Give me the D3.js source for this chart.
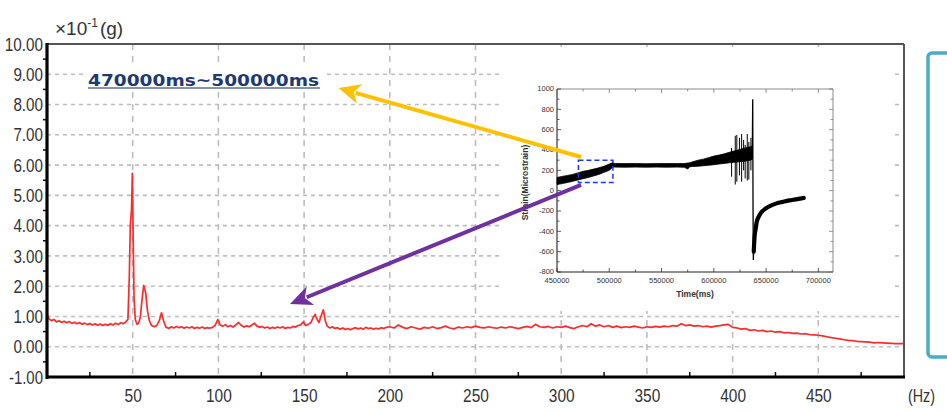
<!DOCTYPE html>
<html>
<head>
<meta charset="utf-8">
<script src="https://cdn.jsdelivr.net/npm/d3@7/dist/d3.min.js"></script>
<style>
  html, body { margin: 0; padding: 0; background: #fff; }
  svg { display: block; }
  .tick-label { font-family: "Liberation Sans", Arial, sans-serif; fill: #333; }
  .inset-text { font-family: "Liberation Sans", Arial, sans-serif; fill: #333; }
</style>
</head>
<body>
<svg id="chart" width="947" height="412"></svg>
<script>
// ---- Acceleration spectrum: [frequency (Hz), amplitude (x10^-1 g)] ----
const spectrum = [
  [0,1.10],[1,0.93],[2.5,0.86],[4,0.90],[5.5,0.82],[7,0.86],[8.5,0.80],[10,0.84],[11.5,0.79],[13,0.83],
  [14.5,0.77],[16,0.81],[17.5,0.76],[19,0.80],[20.5,0.74],[22,0.78],[23.5,0.73],[25,0.77],[26.5,0.72],[28,0.76],
  [29.5,0.71],[31,0.75],[32.5,0.70],[34,0.74],[35.5,0.71],[37,0.76],[38.5,0.72],[40,0.78],[41.5,0.73],[43,0.79],
  [44.5,0.76],[46,0.82],[47.2,0.90],[48,2.27],[48.6,4.0],[49.3,4.53],[49.8,5.73],[50.3,3.48],[50.8,1.60],[51.5,0.90],
  [52.5,0.74],[53.5,0.78],[54.5,1.00],[55.3,1.48],[56.4,2.03],[57.6,1.77],[58.6,1.20],[59.6,0.88],[61,0.70],[62.5,0.66],
  [64,0.70],[65.5,0.86],[66.8,1.12],[68.2,0.82],[69.5,0.64],[71,0.60],[72.5,0.66],[74,0.62],[75.5,0.67],[77,0.63],
  [78.5,0.66],[80,0.61],[81.5,0.65],[83,0.62],[84.5,0.66],[86,0.60],[87.5,0.64],[89,0.61],[90.5,0.65],[92,0.60],
  [93.5,0.63],[95,0.61],[96.5,0.64],[98,0.70],[99.7,0.90],[101,0.72],[102.5,0.68],[104,0.73],[105.5,0.66],[107,0.70],
  [108.5,0.65],[110,0.71],[111.8,0.80],[113.5,0.70],[115,0.65],[116.5,0.69],[118,0.66],[119.5,0.72],[121,0.78],[122.5,0.68],
  [124,0.64],[125.5,0.67],[127,0.62],[128.5,0.65],[130,0.60],[131.5,0.64],[133,0.61],[134.5,0.65],[136,0.62],[137.5,0.66],
  [139,0.60],[140.5,0.64],[142,0.62],[143.5,0.67],[145,0.65],[146.5,0.70],[148,0.72],[149.6,0.82],[151,0.70],[152.5,0.74],
  [154,0.80],[155.2,0.95],[156.4,1.07],[157.6,0.90],[158.7,0.80],[159.8,1.00],[161.2,1.22],[162.4,0.85],[163.5,0.68],[165,0.62],
  [166.5,0.66],[168,0.60],[169.5,0.63],[171,0.58],[172.5,0.62],[174,0.57],[175.5,0.60],[177,0.56],[178.5,0.60],[180,0.63],
  [181.5,0.59],[183,0.62],[184.5,0.58],[186,0.64],[187.5,0.60],[189,0.62],[190.5,0.58],[192,0.61],[193.5,0.59],[195,0.63],
  [196.5,0.60],[198,0.64],[200,0.66],[202.5,0.62],[205,0.72],[207.5,0.64],[210,0.60],[212.5,0.66],[215,0.62],[217.5,0.58],
  [220,0.64],[222.5,0.61],[225,0.66],[227.5,0.60],[230,0.63],[232.5,0.68],[235,0.62],[237.5,0.59],[240,0.65],[242.5,0.62],
  [245,0.66],[247.5,0.63],[250,0.68],[252.5,0.64],[255,0.62],[257.5,0.66],[260,0.63],[262.5,0.61],[265,0.65],[267.5,0.62],
  [270,0.66],[272.5,0.63],[275,0.60],[277.5,0.64],[280,0.67],[282.5,0.63],[285,0.74],[287.5,0.66],[290,0.64],[292.5,0.67],
  [295,0.62],[297.5,0.66],[300,0.64],[302.5,0.68],[305,0.63],[307.5,0.60],[310,0.66],[312.5,0.70],[315,0.66],[317.5,0.76],
  [320,0.68],[322.5,0.72],[325,0.66],[327.5,0.70],[330,0.64],[332.5,0.68],[335,0.63],[337.5,0.66],[340,0.64],[342.5,0.68],
  [345,0.65],[347.5,0.62],[350,0.66],[352.5,0.64],[355,0.67],[357.5,0.65],[360,0.68],[362.5,0.66],[365,0.70],[367.5,0.68],
  [370,0.76],[372.5,0.70],[375,0.72],[377.5,0.68],[380,0.70],[382.5,0.66],[385,0.68],[387.5,0.65],[390,0.68],[392.5,0.70],
  [395,0.72],[397.5,0.74],[400,0.64],[402.5,0.62],[405,0.58],[407.5,0.60],[410,0.54],[412.5,0.56],[415,0.52],[417.5,0.54],
  [420,0.50],[422.5,0.52],[425,0.48],[427.5,0.50],[430,0.46],[432.5,0.47],[435,0.44],[437.5,0.45],[440,0.42],[442.5,0.43],
  [445,0.40],[447.5,0.39],[450,0.38],[452.5,0.36],[455,0.33],[457.5,0.30],[460,0.28],[462.5,0.26],[465,0.23],[467.5,0.21],
  [470,0.20],[472.5,0.18],[475,0.17],[477.5,0.16],[480,0.15],[482.5,0.13],[485,0.14],[487.5,0.13],[490,0.12],[492.5,0.11],
  [495,0.10],[497.5,0.10],[500,0.10]
];
const freqTicks = [50,100,150,200,250,300,350,400,450];
const freqMinorTicks = [25,75,125,175,225,275,325,375,425,475];
const ampTicks = [-1,0,1,2,3,4,5,6,7,8,9,10];
const ampTickLabels = ["-1.00","0.00","1.00","2.00","3.00","4.00","5.00","6.00","7.00","8.00","9.00","10.00"];
const ampMinorTicks = [-0.5,0.5,1.5,2.5,3.5,4.5,5.5,6.5,7.5,8.5,9.5];
const windowLabel = "470000ms~500000ms";

// ---- Strain history (inset): time (ms) vs microstrain ----
// noisy band: [time, upper, lower]
const strainBand = [
  [450000,130,60],[455000,140,70],[460000,150,80],[465000,160,92],[470000,175,105],[475000,190,118],
  [480000,200,130],[485000,212,145],[490000,225,160],[495000,240,180],[500000,262,200],[503000,275,228],
  [505000,268,232],[515000,266,231],[525000,267,232],[535000,265,231],[545000,266,232],[555000,267,231],
  [565000,266,232],[572000,267,230],[575000,272,212],[577000,275,235],[580000,285,238],[585000,300,240],
  [590000,310,245],[595000,325,250],[600000,340,255],[605000,350,262],[610000,362,268],[615000,378,275],
  [620000,392,280],[625000,405,285],[630000,420,290],[635000,432,300],[637000,440,310]
];
// oscillation spikes: [time, low, high]
const strainSpikes = [
  [617000,137,420],[620500,60,540],[622000,88,548],[624500,150,520],[626600,88,557],
  [628500,200,500],[630000,120,450],[632000,100,557],[633500,110,480],[635500,200,520]
];
// rupture: [time, strain]
const strainRupture = [
  [636800,360],[637200,900],[637500,-120],[637800,-682],[638200,-560],[638700,-470],[639300,-420]
];
// relaxation after rupture: [time, strain]
const strainRecovery = [
  [638200,-600],[639000,-450],[640000,-380],[641000,-310],[643000,-255],[645000,-220],[650000,-173],
  [655000,-145],[660000,-125],[666000,-110],[672000,-96],[678000,-86],[684000,-76],[686000,-72]
];
const timeTicks = [450000,500000,550000,600000,650000,700000];
const strainTicks = [-800,-600,-400,-200,0,200,400,600,800,1000];
const selectedWindow = { t0: 470500, t1: 503500, s0: 80, s1: 300 };

const svg = d3.select("#chart");

// narrow numeric labels: fixed advance per digit / dot / minus
function labelWidth(s) {
  let w = 0;
  for (const c of s) w += (c === "." ? 3.8 : c === "-" ? 4.5 : 8.6);
  return w;
}

// ---------- main spectrum frame ----------
const x = d3.scaleLinear().domain([0, 500]).range([47, 904]);
const y = d3.scaleLinear().domain([-1, 10]).range([377, 44]);

const grid = svg.append("g");
grid.selectAll("line.h").data(ampTicks.filter(v => v >= 0 && v <= 9)).join("line")
  .attr("x1", x(0)).attr("x2", x(500)).attr("y1", d => y(d)).attr("y2", d => y(d))
  .attr("stroke", "#bdbdbd").attr("stroke-width", 1.6).attr("stroke-dasharray", "4,4");
grid.selectAll("line.v").data(freqTicks).join("line")
  .attr("x1", d => x(d)).attr("x2", d => x(d)).attr("y1", y(10)).attr("y2", y(-1))
  .attr("stroke", "#bdbdbd").attr("stroke-width", 1.6).attr("stroke-dasharray", "6,6");

// white panel that holds the strain history
svg.append("rect").attr("x", 500).attr("y", 47).attr("width", 393).attr("height", 264).attr("fill", "#fff");

// spectrum trace
svg.append("path").datum(spectrum)
  .attr("fill", "none").attr("stroke", "#ff2a2a").attr("stroke-width", 1.7)
  .attr("stroke-linejoin", "round")
  .attr("d", d3.line().x(d => x(d[0])).y(d => y(d[1])));

// frame: thin grey top/right, heavy black left/bottom
svg.append("line").attr("x1", x(0)).attr("x2", x(500)).attr("y1", y(10)).attr("y2", y(10))
  .attr("stroke", "#555").attr("stroke-width", 2);
svg.append("line").attr("x1", x(500)).attr("x2", x(500)).attr("y1", y(10)).attr("y2", y(-1))
  .attr("stroke", "#555").attr("stroke-width", 2);

svg.selectAll("line.ymin").data(ampMinorTicks).join("line")
  .attr("x1", x(0) - 4).attr("x2", x(0)).attr("y1", d => y(d)).attr("y2", d => y(d))
  .attr("stroke", "#111").attr("stroke-width", 1.5);
svg.selectAll("line.xmin").data(freqMinorTicks).join("line")
  .attr("x1", d => x(d)).attr("x2", d => x(d)).attr("y1", y(-1)).attr("y2", y(-1) - 5)
  .attr("stroke", "#111").attr("stroke-width", 1.5);

svg.append("line").attr("x1", x(0)).attr("x2", x(0)).attr("y1", y(10) - 1).attr("y2", y(-1) + 2)
  .attr("stroke", "#000").attr("stroke-width", 3.2);
svg.append("line").attr("x1", x(0) - 1).attr("x2", x(500) + 1).attr("y1", y(-1)).attr("y2", y(-1))
  .attr("stroke", "#000").attr("stroke-width", 3.2);

// axis labels
const xAxis = svg.append("g").attr("transform", `translate(0,${y(-1)})`)
  .call(d3.axisBottom(x).tickValues(freqTicks).tickSize(0).tickPadding(12).tickFormat(d3.format("d")));
xAxis.select(".domain").remove();
xAxis.selectAll("text").attr("class", "tick-label").attr("font-size", 19).attr("fill", "#333")
  .attr("textLength", function () { return labelWidth(this.textContent); })
  .attr("lengthAdjust", "spacingAndGlyphs");

const yAxis = svg.append("g").attr("transform", `translate(${x(0) - 3},0)`)
  .call(d3.axisLeft(y).tickValues(ampTicks).tickSize(0).tickPadding(1)
    .tickFormat((d, i) => ampTickLabels[i]));
yAxis.select(".domain").remove();
yAxis.selectAll("text").attr("class", "tick-label").attr("font-size", 19).attr("fill", "#333")
  .attr("textLength", function () { return labelWidth(this.textContent); })
  .attr("lengthAdjust", "spacingAndGlyphs");

svg.append("text").attr("class", "tick-label").attr("x", 908).attr("y", 402)
  .attr("font-size", 18).attr("textLength", 27).attr("lengthAdjust", "spacingAndGlyphs").text("(Hz)");

const unit = svg.append("text").attr("class", "tick-label").attr("x", 55).attr("y", 35).attr("font-size", 19);
unit.append("tspan").text("×10");
unit.append("tspan").attr("dy", -8).attr("font-size", 12).text("-1");
unit.append("tspan").attr("dy", 8).attr("dx", 2).text("(g)");

// ---------- time-window caption ----------
svg.append("rect").attr("x", 85).attr("y", 68).attr("width", 240).attr("height", 22).attr("fill", "#fff");
svg.append("text").attr("x", 88).attr("y", 85.5)
  .attr("font-family", "'DejaVu Sans', Verdana, sans-serif").attr("font-weight", "bold")
  .attr("font-size", 15.5).attr("fill", "#1f3a6e")
  .attr("textLength", 231).attr("lengthAdjust", "spacingAndGlyphs")
  .text(windowLabel);
svg.append("line").attr("x1", 88).attr("x2", 320).attr("y1", 88).attr("y2", 88)
  .attr("stroke", "#5a6f96").attr("stroke-width", 1.4);

// ---------- strain history inset ----------
const tx = d3.scaleLinear().domain([450000, 714000]).range([557, 833]);
const sy = d3.scaleLinear().domain([-800, 1000]).range([272, 89]);
const inset = svg.append("g");

// frame
inset.append("line").attr("x1", tx(450000)).attr("x2", tx(714000)).attr("y1", sy(1000)).attr("y2", sy(1000))
  .attr("stroke", "#8a8a8a").attr("stroke-width", 1);
inset.append("line").attr("x1", tx(714000)).attr("x2", tx(714000)).attr("y1", sy(1000)).attr("y2", sy(-800))
  .attr("stroke", "#8a8a8a").attr("stroke-width", 1);
inset.append("line").attr("x1", tx(450000)).attr("x2", tx(450000)).attr("y1", sy(1000)).attr("y2", sy(-800))
  .attr("stroke", "#222").attr("stroke-width", 1.1);
inset.append("line").attr("x1", tx(450000)).attr("x2", tx(714000)).attr("y1", sy(-800)).attr("y2", sy(-800))
  .attr("stroke", "#222").attr("stroke-width", 1.1);

const minorT = d3.range(475000, 714000, 50000);
const minorS = d3.range(-700, 1000, 200);
inset.selectAll("line.tt").data(timeTicks.concat(minorT)).join("line")
  .attr("x1", d => tx(d)).attr("x2", d => tx(d))
  .attr("y1", sy(-800)).attr("y2", d => sy(-800) - (d % 50000 === 0 ? 4 : 2.5))
  .attr("stroke", "#333").attr("stroke-width", 0.8);
inset.selectAll("line.tt2").data(timeTicks.concat(minorT)).join("line")
  .attr("x1", d => tx(d)).attr("x2", d => tx(d))
  .attr("y1", sy(1000)).attr("y2", d => sy(1000) + (d % 50000 === 0 ? 4 : 2.5))
  .attr("stroke", "#777").attr("stroke-width", 0.8);
inset.selectAll("line.st").data(strainTicks.concat(minorS)).join("line")
  .attr("x1", tx(450000)).attr("x2", d => tx(450000) + (d % 200 === 0 ? 4 : 2.5))
  .attr("y1", d => sy(d)).attr("y2", d => sy(d))
  .attr("stroke", "#333").attr("stroke-width", 0.8);
inset.selectAll("line.st2").data(strainTicks.concat(minorS)).join("line")
  .attr("x1", tx(714000)).attr("x2", d => tx(714000) - (d % 200 === 0 ? 4 : 2.5))
  .attr("y1", d => sy(d)).attr("y2", d => sy(d))
  .attr("stroke", "#777").attr("stroke-width", 0.8);

inset.selectAll("text.tl").data(timeTicks).join("text")
  .attr("class", "inset-text").attr("x", d => tx(d)).attr("y", sy(-800) + 11)
  .attr("text-anchor", "middle").attr("font-size", 7.5).text(d => d);
inset.selectAll("text.sl").data(strainTicks).join("text")
  .attr("class", "inset-text").attr("x", tx(450000) - 3).attr("y", d => sy(d) + 2.2)
  .attr("text-anchor", "end").attr("font-size", 7.5).text(d => d);
inset.append("text").attr("class", "inset-text").attr("x", tx(582000)).attr("y", 297)
  .attr("text-anchor", "middle").attr("font-size", 8.5).attr("font-weight", "bold").attr("fill", "#222")
  .text("Time(ms)");
inset.append("text").attr("class", "inset-text")
  .attr("transform", `translate(528,${sy(80)}) rotate(-90)`)
  .attr("text-anchor", "middle").attr("font-size", 8.5).attr("font-weight", "bold").attr("fill", "#222")
  .text("Strain(Microstrain)");

// noisy band
inset.append("path").datum(strainBand)
  .attr("fill", "#000").attr("stroke", "#000").attr("stroke-width", 0.8)
  .attr("d", d3.area().x(d => tx(d[0])).y0(d => sy(d[2])).y1(d => sy(d[1])));
inset.selectAll("line.sp").data(strainSpikes).join("line")
  .attr("x1", d => tx(d[0])).attr("x2", d => tx(d[0]))
  .attr("y1", d => sy(d[1])).attr("y2", d => sy(d[2]))
  .attr("stroke", "#000").attr("stroke-width", 1);
inset.append("path").datum(strainRupture)
  .attr("fill", "none").attr("stroke", "#000").attr("stroke-width", 1.3)
  .attr("d", d3.line().x(d => tx(d[0])).y(d => sy(d[1])));
inset.append("path").datum(strainRecovery)
  .attr("fill", "none").attr("stroke", "#000").attr("stroke-width", 4.2).attr("stroke-linecap", "round")
  .attr("d", d3.line().curve(d3.curveMonotoneX).x(d => tx(d[0])).y(d => sy(d[1])));

// selected window
inset.append("rect")
  .attr("x", tx(selectedWindow.t0)).attr("y", sy(selectedWindow.s1))
  .attr("width", tx(selectedWindow.t1) - tx(selectedWindow.t0))
  .attr("height", sy(selectedWindow.s0) - sy(selectedWindow.s1))
  .attr("fill", "none").attr("stroke", "#1a35ff").attr("stroke-width", 1.5).attr("stroke-dasharray", "5,3");

// ---------- arrows from the window to the caption and to the spectrum ----------
function arrow(x1, y1, x2, y2, color) {
  const ang = Math.atan2(y2 - y1, x2 - x1);
  const len = 22, half = 10;
  const bx = x2 - len * Math.cos(ang), by = y2 - len * Math.sin(ang);
  svg.append("line").attr("x1", x1).attr("y1", y1).attr("x2", bx + 4 * Math.cos(ang)).attr("y2", by + 4 * Math.sin(ang))
    .attr("stroke", color).attr("stroke-width", 4);
  const pts = [
    [x2, y2],
    [bx + half * Math.sin(ang), by - half * Math.cos(ang)],
    [bx + 6 * Math.cos(ang), by + 6 * Math.sin(ang)],
    [bx - half * Math.sin(ang), by + half * Math.cos(ang)]
  ];
  svg.append("polygon").attr("points", pts.map(p => p.join(",")).join(" ")).attr("fill", color);
}
arrow(tx(473000), sy(331), x(170), y(8.55), "#ffc000");
arrow(tx(473000), sy(56), x(141.8), y(1.41), "#7030a0");

// side text box
svg.append("rect").attr("x", 928).attr("y", 53).attr("width", 40).attr("height", 304).attr("rx", 4)
  .attr("fill", "none").attr("stroke", "#4bacc6").attr("stroke-width", 3.5);
</script>
</body>
</html>
